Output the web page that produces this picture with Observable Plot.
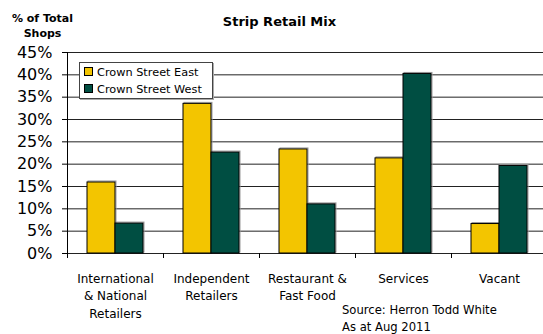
<!DOCTYPE html>
<html>
<head>
<meta charset="utf-8">
<script src="https://cdn.jsdelivr.net/npm/d3@7"></script>
<script src="https://cdn.jsdelivr.net/npm/@observablehq/plot@0.6"></script>
<style>
  html, body { margin: 0; padding: 0; background: #fff; overflow: hidden; width: 543px; height: 334px; }
  #wrap { position: relative; width: 547px; height: 334px; font-family: "DejaVu Sans", sans-serif; }
  #legend { position: absolute; left: 79px; top: 62px; width: 132px; height: 35px; background: #fff;
    border: 1px solid #444; box-shadow: 1px 1px 0 #aaa; font-size: 11.3px; }
  .row { position: absolute; left: 4px; height: 14px; line-height: 14px; white-space: nowrap; }
  .sw { display: inline-block; width: 7px; height: 7px; border: 1px solid #000; margin-right: 4px; vertical-align: 0px; }
</style>
</head>
<body>
<div id="wrap"></div>
<script>
const categories = ["intl", "indep", "rest", "serv", "vacant"];
const categoryLabels = ["International\n& National\nRetailers", "Independent\nRetailers", "Restaurant &\nFast Food", "Services", "Vacant"];
const series = ["Crown Street East", "Crown Street West"];
const eastValues = [15.9, 33.5, 23.3, 21.3, 6.6];
const westValues = [6.7, 22.6, 11.0, 40.2, 19.6];
const colors = ["#F3C500", "#004E42"];
const yTicks = [0, 5, 10, 15, 20, 25, 30, 35, 40, 45];
const title = "Strip Retail Mix";
const yTitle = ["% of Total", "Shops"];
const sourceLines = ["Source: Herron Todd White", "As at Aug 2011"];

const data = [];
categories.forEach((c, i) => {
  data.push({category: c, series: series[0], value: eastValues[i]});
  data.push({category: c, series: series[1], value: westValues[i]});
});
const labelOf = Object.fromEntries(categories.map((c, i) => [c, categoryLabels[i]]));

const chart = Plot.plot({
  width: 547,
  height: 334,
  marginLeft: 67,
  marginRight: 0,
  marginTop: 52,
  marginBottom: 81,
  style: {fontFamily: "DejaVu Sans", fontSize: "12px", color: "#000", background: "#fff"},
  fx: {domain: categories, padding: 0},
  x: {domain: series, paddingInner: 0, paddingOuter: 0.714, axis: null},
  y: {domain: [0, 45]},
  color: {domain: series, range: colors},
  marks: [
    Plot.ruleY(yTicks, {stroke: "#222", strokeWidth: 1}),
    Plot.barY(data, {fx: "category", x: "series", y: "value", fill: "none", stroke: "#999", strokeWidth: 1, dx: 1, dy: -1}),
    Plot.barY(data, {fx: "category", x: "series", y: "value", fill: "series", stroke: "#000", strokeWidth: 1}),
    Plot.axisY({ticks: yTicks, tickFormat: d => d + "%", tickSize: 5, tickPadding: 10, fontSize: 16, label: null}),
    Plot.axisFx({tickSize: 0, tickPadding: 17, tickFormat: d => labelOf[d], lineHeight: 1.45, fontSize: 12, label: null, anchor: "bottom"})
  ]
});

const svg = d3.select(chart);
const fx = chart.scale("fx");
const y = chart.scale("y");
const y0 = y.apply(0), y45 = y.apply(45);
const left = fx.apply(categories[0]);
// y axis line
svg.append("line").attr("x1", left + 0.5).attr("x2", left + 0.5).attr("y1", y45).attr("y2", y0 + 0.5)
  .attr("stroke", "#000");
// category boundary ticks
categories.forEach(c => {
  const bx = Math.round(fx.apply(c)) + 0.5;
  svg.append("line").attr("x1", bx).attr("x2", bx).attr("y1", y0).attr("y2", y0 + 5).attr("stroke", "#000");
});
// titles
svg.append("text").attr("x", 279.5).attr("y", 26).attr("text-anchor", "middle")
  .attr("font-weight", "bold").attr("font-size", 13).text(title);
yTitle.forEach((t, i) => svg.append("text").attr("x", 42.5).attr("y", 21.5 + i * 15.5)
  .attr("text-anchor", "middle").attr("font-weight", "bold").attr("font-size", 11).text(t));
sourceLines.forEach((t, i) => svg.append("text").attr("x", 342).attr("y", 314 + i * 17)
  .attr("text-anchor", "start").attr("font-size", 11.6).text(t));

const wrap = document.getElementById("wrap");
wrap.appendChild(chart);
const legend = document.createElement("div");
legend.id = "legend";
series.forEach((s, i) => {
  const row = document.createElement("div");
  row.className = "row";
  row.style.top = (3 + i * 17) + "px";
  const sw = document.createElement("span");
  sw.className = "sw";
  sw.style.background = colors[i];
  row.appendChild(sw);
  row.appendChild(document.createTextNode(s));
  legend.appendChild(row);
});
wrap.appendChild(legend);
</script>
</body>
</html>
